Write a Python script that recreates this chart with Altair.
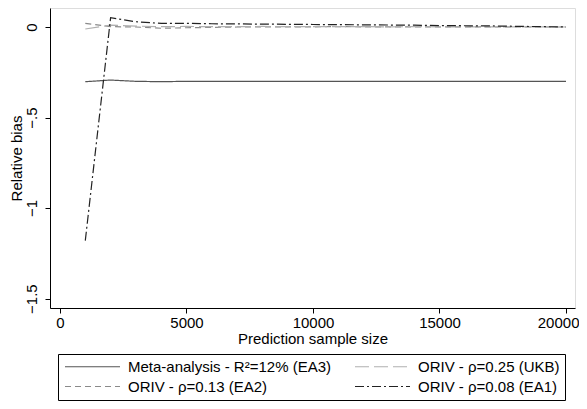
import altair as alt
import pandas as pd

x_vals = [1000, 2000, 3000, 4000, 5000, 6000, 7000, 8000, 9000, 10000,
          11000, 12000, 13000, 14000, 15000, 16000, 17000, 18000, 19000, 20000]

meta = [-0.302, -0.293, -0.300, -0.302, -0.300, -0.300, -0.300, -0.300, -0.300, -0.300,
        -0.300, -0.300, -0.300, -0.300, -0.300, -0.300, -0.300, -0.300, -0.300, -0.300]
ukb = [-0.011, 0.010, 0.005, 0.002, 0.003, 0.002, 0.002, 0.003, 0.002, 0.002,
       0.002, 0.002, 0.001, 0.002, 0.001, 0.001, 0.001, 0.001, 0.001, 0.000]
ea2 = [0.020, 0.002, 0.000, -0.007, -0.004, -0.002, 0.000, 0.001, 0.001, 0.001,
       0.002, 0.001, 0.001, 0.001, 0.000, 0.001, 0.000, 0.000, 0.000, 0.000]
ea1 = [-1.180, 0.051, 0.029, 0.020, 0.020, 0.018, 0.017, 0.016, 0.015, 0.014,
       0.013, 0.012, 0.011, 0.010, 0.008, 0.007, 0.006, 0.004, 0.002, 0.000]

# legend fills column-wise: column 1 = Meta, EA2; column 2 = UKB, EA1
series_names = ["Meta-analysis - R\u00b2=12% (EA3)",
                "ORIV - \u03c1=0.13 (EA2)",
                "ORIV - \u03c1=0.25 (UKB)",
                "ORIV - \u03c1=0.08 (EA1)"]
series_values = [meta, ea2, ukb, ea1]
colors = ["#555555", "#8a8a8a", "#b0b0b0", "#222222"]
dashes = [[1, 0], [6, 4], [14, 5], [9, 3, 2, 3]]

y_ticks = [0, -0.5, -1, -1.5]
x_ticks = [0, 5000, 10000, 15000, 20000]

rows = []
for name, vals in zip(series_names, series_values):
    for xv, yv in zip(x_vals, vals):
        rows.append({"x": xv, "y": yv, "series": name})
df = pd.DataFrame(rows)

font = "Liberation Sans"
fs = 15

chart = alt.Chart(df).mark_line(strokeWidth=1.2).encode(
    x=alt.X("x:Q",
            scale=alt.Scale(domain=[-395, 20356], nice=False, zero=False),
            axis=alt.Axis(values=x_ticks, title="Prediction sample size", format="d",
                          grid=False, tickSize=5, labelFontSize=fs,
                          titleFontSize=fs, titleFontWeight="normal",
                          titlePadding=1, labelPadding=2,
                          labelFlush=9.6, labelFlushOffset=13,
                          domainColor="black", tickColor="black",
                          labelColor="black", titleColor="black",
                          labelFont=font, titleFont=font)),
    y=alt.Y("y:Q",
            scale=alt.Scale(domain=[-1.552, 0.105], nice=False, zero=False),
            axis=alt.Axis(values=y_ticks, title="Relative bias",
                          grid=False, tickSize=5, labelFontSize=fs,
                          titleFontSize=fs, titleFontWeight="normal",
                          labelAngle=270, labelAlign="center", labelBaseline="bottom",
                          labelPadding=6, titlePadding=0,
                          labelExpr="datum.value == 0 ? '0' : replace(format(datum.value, '.1~f'), '0.', '.')",
                          domainColor="black", tickColor="black",
                          labelColor="black", titleColor="black",
                          labelFont=font, titleFont=font, labelFlush=False)),
    color=alt.Color("series:N",
                    scale=alt.Scale(domain=series_names, range=colors),
                    sort=series_names,
                    legend=alt.Legend(title=None, orient="none", legendX=8, legendY=346,
                                      columns=2, symbolType="M-1,0H9", symbolSize=121,
                                      symbolStrokeWidth=1.2, labelFontSize=fs,
                                      labelFont=font, labelColor="black",
                                      strokeColor="black", padding=5,
                                      columnPadding=21, rowPadding=4,
                                      labelOffset=50, labelLimit=300)),
    strokeDash=alt.StrokeDash("series:N",
                              scale=alt.Scale(domain=series_names, range=dashes),
                              sort=series_names, legend=None),
    detail="series:N",
).properties(
    width=525, height=300,
    autosize=alt.AutoSizeParams(type="none"),
    padding={"left": 42, "top": 0, "right": 4, "bottom": 93}
).configure_view(
    stroke="black", strokeWidth=1
).configure(
    background="white"
)

chart.save("out.html", embed_options={"renderer": "svg", "actions": False})
